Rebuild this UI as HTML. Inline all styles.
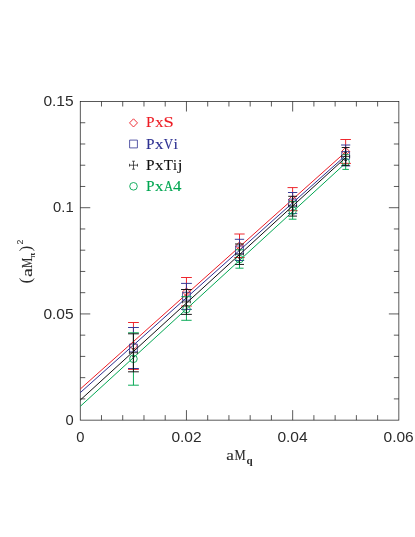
<!DOCTYPE html>
<html><head><meta charset="utf-8"><title>plot</title>
<style>
html,body{margin:0;padding:0;background:#ffffff;}
svg{display:block;will-change:transform;}
text{font-family:"Liberation Sans",sans-serif;}
.s{font-family:"Liberation Serif",serif;}
</style></head><body>
<svg width="415" height="537" viewBox="0 0 415 537">
<rect x="0" y="0" width="415" height="537" fill="#ffffff"/>
<g stroke="#1a1a1a" stroke-width="0.72" fill="none" stroke-linecap="butt">
<rect x="80.25" y="101.5" width="318.61" height="318.64"/>
<path d="M101.49 420.14v-5M101.49 101.5v5M122.73 420.14v-5M122.73 101.5v5M143.97 420.14v-5M143.97 101.5v5M165.21 420.14v-5M165.21 101.5v5M186.45 420.14v-10M186.45 101.5v10M207.69 420.14v-5M207.69 101.5v5M228.93 420.14v-5M228.93 101.5v5M250.18 420.14v-5M250.18 101.5v5M271.42 420.14v-5M271.42 101.5v5M292.66 420.14v-10M292.66 101.5v10M313.90 420.14v-5M313.90 101.5v5M335.14 420.14v-5M335.14 101.5v5M356.38 420.14v-5M356.38 101.5v5M377.62 420.14v-5M377.62 101.5v5M80.25 398.90h5M398.86 398.90h-5M80.25 377.65h5M398.86 377.65h-5M80.25 356.41h5M398.86 356.41h-5M80.25 335.17h5M398.86 335.17h-5M80.25 313.93h10M398.86 313.93h-10M80.25 292.68h5M398.86 292.68h-5M80.25 271.44h5M398.86 271.44h-5M80.25 250.20h5M398.86 250.20h-5M80.25 228.96h5M398.86 228.96h-5M80.25 207.71h10M398.86 207.71h-10M80.25 186.47h5M398.86 186.47h-5M80.25 165.23h5M398.86 165.23h-5M80.25 143.99h5M398.86 143.99h-5M80.25 122.74h5M398.86 122.74h-5"/>
</g>
<clipPath id="cp"><rect x="80.25" y="101.5" width="318.61" height="318.64"/></clipPath>
<g stroke="#ed1c24" stroke-width="1.0" fill="none">
<path d="M80.25 389.07L345.65 151.96"/>
<path stroke-width="0.95" d="M133.45 322.50V369.40M128.05 322.50h10.80M128.05 369.40h10.80M186.45 277.50V306.00M181.05 277.50h10.80M181.05 306.00h10.80M239.50 234.00V257.50M234.33 234.00h10.34M234.33 257.50h10.34M292.62 187.60V210.70M287.54 187.60h10.16M287.54 210.70h10.16M345.65 139.50V163.40M340.39 139.50h10.52M340.39 163.40h10.52"/>
<path stroke-width="0.9" d="M129.45 345.90L133.45 341.80L137.45 345.90L133.45 350.00ZM182.45 292.00L186.45 287.90L190.45 292.00L186.45 296.10ZM235.50 246.00L239.50 241.90L243.50 246.00L239.50 250.10ZM288.62 199.50L292.62 195.40L296.62 199.50L292.62 203.60ZM341.65 151.40L345.65 147.30L349.65 151.40L345.65 155.50Z"/>
</g>
<g stroke="#2e3192" stroke-width="1.0" fill="none">
<path d="M80.25 392.67L345.65 155.46"/>
<path stroke-width="0.95" d="M133.45 327.50V368.50M128.05 327.50h10.80M128.05 368.50h10.80M186.45 283.40V309.40M181.05 283.40h10.80M181.05 309.40h10.80M239.50 239.30V260.50M234.84 239.30h9.33M234.84 260.50h9.33M292.62 192.50V213.60M287.98 192.50h9.28M287.98 213.60h9.28M345.65 145.00V165.90M341.05 145.00h9.20M341.05 165.90h9.20"/>
<path stroke-width="0.8" d="M129.55 344.00h7.8v7.8h-7.8ZM182.55 292.30h7.8v7.8h-7.8ZM235.60 246.00h7.8v7.8h-7.8ZM288.72 199.10h7.8v7.8h-7.8ZM341.75 151.50h7.8v7.8h-7.8Z"/>
</g>
<g stroke="#00a651" stroke-width="1.0" fill="none">
<path d="M80.25 406.37L345.65 163.10"/>
<path stroke-width="0.95" d="M133.45 332.80V385.20M128.05 332.80h10.80M128.05 385.20h10.80M186.45 296.70V320.30M181.26 296.70h10.38M181.26 320.30h10.38M239.50 249.80V268.20M235.45 249.80h8.10M235.45 268.20h8.10M292.62 201.70V219.20M288.77 201.70h7.70M288.77 219.20h7.70M345.65 154.70V169.40M342.42 154.70h6.47M342.42 169.40h6.47"/>
<circle stroke-width="0.9" cx="133.45" cy="358.80" r="3.8"/>
<circle stroke-width="0.9" cx="186.45" cy="309.10" r="3.8"/>
<circle stroke-width="0.9" cx="239.50" cy="259.10" r="3.8"/>
<circle stroke-width="0.9" cx="292.62" cy="210.60" r="3.8"/>
<circle stroke-width="0.9" cx="345.65" cy="162.10" r="3.8"/>
</g>
<g stroke="#111111" stroke-width="1.0" fill="none">
<path d="M80.25 400.07L345.65 157.60"/>
<path stroke-width="0.95" d="M133.45 333.80V371.80M128.05 333.80h10.80M128.05 371.80h10.80M186.45 289.50V314.40M181.05 289.50h10.80M181.05 314.40h10.80M239.50 244.00V264.45M235.00 244.00h9.00M235.00 264.45h9.00M292.62 196.30V216.10M288.26 196.30h8.71M288.26 216.10h8.71M345.65 147.50V165.40M341.71 147.50h7.88M341.71 165.40h7.88"/>
<path stroke-width="0.7" d="M129.45 352.70h8.0M133.45 348.70v8.0M129.45 351.30v2.8M137.45 351.30v2.8M132.05 348.70h2.8M132.05 356.70h2.8M182.45 301.90h8.0M186.45 297.90v8.0M182.45 300.50v2.8M190.45 300.50v2.8M185.05 297.90h2.8M185.05 305.90h2.8M235.50 254.20h8.0M239.50 250.20v8.0M235.50 252.80v2.8M243.50 252.80v2.8M238.10 250.20h2.8M238.10 258.20h2.8M288.62 205.80h8.0M292.62 201.80v8.0M288.62 204.40v2.8M296.62 204.40v2.8M291.22 201.80h2.8M291.22 209.80h2.8M341.65 156.50h8.0M345.65 152.50v8.0M341.65 155.10v2.8M349.65 155.10v2.8M344.25 152.50h2.8M344.25 160.50h2.8"/>
</g>
<path d="M129.50 122.90L133.50 118.80L137.50 122.90L133.50 127.00Z" stroke="#ed1c24" stroke-width="0.9" fill="none"/>
<path d="M129.60 140.10h7.8v7.8h-7.8Z" stroke="#2e3192" stroke-width="0.8" fill="none"/>
<path d="M129.50 165.20h8.0M133.50 161.20v8.0M129.50 163.80v2.8M137.50 163.80v2.8M132.10 161.20h2.8M132.10 169.20h2.8" stroke="#111111" stroke-width="0.7" fill="none"/>
<circle cx="133.5" cy="186.3" r="3.8" stroke="#00a651" stroke-width="0.9" fill="none"/>
<text class="s" x="146.06" y="127.40" font-size="15" fill="#ed1c24" textLength="8.52" lengthAdjust="spacingAndGlyphs" stroke="#ed1c24" stroke-width="0.12">P</text>
<text class="s" x="155.20" y="127.40" font-size="15" fill="#ed1c24" textLength="8.20" lengthAdjust="spacingAndGlyphs" stroke="#ed1c24" stroke-width="0.12">x</text>
<text class="s" x="163.44" y="127.40" font-size="15" fill="#ed1c24" textLength="10.30" lengthAdjust="spacingAndGlyphs" stroke="#ed1c24" stroke-width="0.12">S</text>
<text class="s" x="146.06" y="148.50" font-size="15" fill="#2e3192" textLength="8.52" lengthAdjust="spacingAndGlyphs" stroke="#2e3192" stroke-width="0.12">P</text>
<text class="s" x="155.00" y="148.50" font-size="15" fill="#2e3192" textLength="8.40" lengthAdjust="spacingAndGlyphs" stroke="#2e3192" stroke-width="0.12">x</text>
<text class="s" x="163.70" y="148.50" font-size="15" fill="#2e3192" textLength="9.34" lengthAdjust="spacingAndGlyphs" stroke="#2e3192" stroke-width="0.12">V</text>
<text class="s" x="173.55" y="148.50" font-size="15" fill="#2e3192" textLength="4.45" lengthAdjust="spacingAndGlyphs" stroke="#2e3192" stroke-width="0.12">i</text>
<text class="s" x="146.06" y="169.70" font-size="15" fill="#111111" textLength="8.52" lengthAdjust="spacingAndGlyphs" stroke="#111111" stroke-width="0.12">P</text>
<text class="s" x="155.00" y="169.70" font-size="15" fill="#111111" textLength="8.40" lengthAdjust="spacingAndGlyphs" stroke="#111111" stroke-width="0.12">x</text>
<text class="s" x="163.87" y="169.70" font-size="15" fill="#111111" textLength="9.16" lengthAdjust="spacingAndGlyphs" stroke="#111111" stroke-width="0.12">T</text>
<text class="s" x="173.08" y="169.70" font-size="15" fill="#111111" textLength="4.00" lengthAdjust="spacingAndGlyphs" stroke="#111111" stroke-width="0.12">i</text>
<text class="s" x="177.73" y="169.70" font-size="15" fill="#111111" textLength="4.74" lengthAdjust="spacingAndGlyphs" stroke="#111111" stroke-width="0.12">j</text>
<text class="s" x="146.06" y="190.80" font-size="15" fill="#00a651" textLength="8.52" lengthAdjust="spacingAndGlyphs" stroke="#00a651" stroke-width="0.12">P</text>
<text class="s" x="155.00" y="190.80" font-size="15" fill="#00a651" textLength="8.40" lengthAdjust="spacingAndGlyphs" stroke="#00a651" stroke-width="0.12">x</text>
<text class="s" x="163.90" y="190.80" font-size="15" fill="#00a651" textLength="9.14" lengthAdjust="spacingAndGlyphs" stroke="#00a651" stroke-width="0.12">A</text>
<text class="s" x="173.04" y="190.80" font-size="15" fill="#00a651" textLength="8.43" lengthAdjust="spacingAndGlyphs" stroke="#00a651" stroke-width="0.12">4</text>
<text x="73.6" y="106.4" font-size="14.6" fill="#2b2b2b" text-anchor="end" textLength="30.2" lengthAdjust="spacingAndGlyphs">0.15</text>
<text x="73.6" y="212.3" font-size="14.6" fill="#2b2b2b" text-anchor="end" textLength="20.5" lengthAdjust="spacingAndGlyphs">0.1</text>
<text x="73.6" y="318.6" font-size="14.6" fill="#2b2b2b" text-anchor="end" textLength="30.2" lengthAdjust="spacingAndGlyphs">0.05</text>
<text x="73.6" y="424.9" font-size="14.6" fill="#2b2b2b" text-anchor="end" textLength="8.2" lengthAdjust="spacingAndGlyphs">0</text>
<text x="80.3" y="442.4" font-size="14.6" fill="#2b2b2b" text-anchor="middle" textLength="8.2" lengthAdjust="spacingAndGlyphs">0</text>
<text x="186.5" y="442.4" font-size="14.6" fill="#2b2b2b" text-anchor="middle" textLength="30.2" lengthAdjust="spacingAndGlyphs">0.02</text>
<text x="292.5" y="442.4" font-size="14.6" fill="#2b2b2b" text-anchor="middle" textLength="30.2" lengthAdjust="spacingAndGlyphs">0.04</text>
<text x="398.6" y="442.4" font-size="14.6" fill="#2b2b2b" text-anchor="middle" textLength="30.2" lengthAdjust="spacingAndGlyphs">0.06</text>
<text class="s" x="226.3" y="460.2" font-size="14.8" fill="#2b2b2b" textLength="7.6" lengthAdjust="spacingAndGlyphs" stroke="#2b2b2b" stroke-width="0.12">a</text>
<text class="s" x="234.4" y="460.2" font-size="14.8" fill="#2b2b2b" textLength="11.2" lengthAdjust="spacingAndGlyphs" stroke="#2b2b2b" stroke-width="0.12">M</text>
<text class="s" x="246.6" y="464.3" font-size="11" font-weight="bold" fill="#2b2b2b">q</text>
<g transform="translate(31.5,283) rotate(-90)" fill="#2b2b2b">
<text class="s" x="-0.6" y="-0.5" font-size="17.6">(</text>
<text class="s" x="6" y="0" font-size="15.5" textLength="8.8" lengthAdjust="spacingAndGlyphs" stroke="#2b2b2b" stroke-width="0.12">a</text>
<text class="s" x="14.9" y="0" font-size="15.5" textLength="10.2" lengthAdjust="spacingAndGlyphs" stroke="#2b2b2b" stroke-width="0.12">M</text>
<text class="s" x="25.2" y="3.2" font-size="9" font-weight="bold">π</text>
<text class="s" x="31.4" y="-0.5" font-size="17.6">)</text>
<text x="38.6" y="-8.5" font-size="8.7">2</text>
</g>
</svg>
</body></html>
